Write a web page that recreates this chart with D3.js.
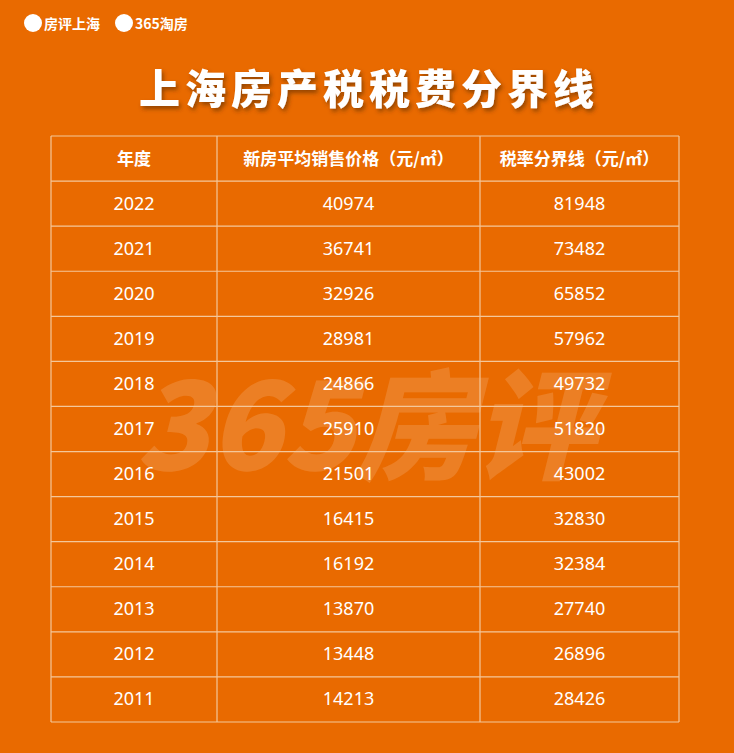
<!DOCTYPE html>
<html><head><meta charset="utf-8">
<script src="https://cdn.jsdelivr.net/npm/d3@7"></script>
<style>body{margin:0;background:#e96a00;}svg{display:block;}</style>
</head><body>
<script>
const years = ["2022","2021","2020","2019","2018","2017","2016","2015","2014","2013","2012","2011"];
const avgPrice = [40974,36741,32926,28981,24866,25910,21501,16415,16192,13870,13448,14213];
const threshold = [81948,73482,65852,57962,49732,51820,43002,32830,32384,27740,26896,28426];
const headers = ["年度","新房平均销售价格（元/㎡）","税率分界线（元/㎡）"];

const W = 734, H = 753;
const svg = d3.select("body").append("svg").attr("width", W).attr("height", H);
svg.append("rect").attr("width", W).attr("height", H).attr("fill", "#e96a00");

const font = "'Noto Sans CJK SC', 'Noto Sans', sans-serif";

// logos
svg.append("circle").attr("cx", 33).attr("cy", 23).attr("r", 9).attr("fill", "#fff");
svg.append("text").attr("x", 44).attr("y", 29).attr("fill", "#fff").attr("font-family", font)
  .attr("font-weight", 700).attr("font-size", 14).text("房评上海");
svg.append("circle").attr("cx", 124).attr("cy", 23).attr("r", 9).attr("fill", "#fff");
svg.append("text").attr("x", 135).attr("y", 29).attr("fill", "#fff").attr("font-family", font)
  .attr("font-weight", 700).attr("font-size", 14).text("365淘房");

// watermark (faint, behind the table)
svg.append("text").attr("x", 365).attr("y", 470).attr("text-anchor", "middle")
  .attr("fill", "#fff").attr("opacity", 0.14).attr("font-family", font)
  .attr("font-weight", 900).attr("font-size", 120).attr("font-style", "italic").text("365房评");

// title
const defs = svg.append("defs");
const f = defs.append("filter").attr("id", "sh");
f.append("feDropShadow").attr("dx", 2).attr("dy", 3).attr("stdDeviation", 2).attr("flood-color", "#5a2a00").attr("flood-opacity", 0.6);
svg.append("text").attr("x", 369).attr("y", 104).attr("text-anchor", "middle")
  .attr("fill", "#fff").attr("font-family", font).attr("font-weight", 900)
  .attr("font-size", 41).attr("letter-spacing", 5).attr("filter", "url(#sh)").text("上海房产税税费分界线");

// table
const colX = [51, 217, 480, 679];
const rows = years.map((y, i) => [y, avgPrice[i], threshold[i]]);
const y = d3.scaleBand().domain(d3.range(rows.length + 1)).range([136, 722]);
const lc = "#f4c79a";
d3.range(rows.length + 2).forEach(i => {
  const yy = i <= rows.length ? y(i) : 722;
  svg.append("line").attr("x1", colX[0]).attr("x2", colX[3]).attr("y1", yy).attr("y2", yy)
    .attr("stroke", lc).attr("stroke-width", 1.2);
});
colX.forEach(x => svg.append("line").attr("x1", x).attr("x2", x).attr("y1", 136).attr("y2", 722)
  .attr("stroke", lc).attr("stroke-width", 1.2));

const cx = [134, 348.5, 579.5];
headers.forEach((h, j) => svg.append("text").attr("x", cx[j]).attr("y", y(0) + y.bandwidth() / 2 + 6)
  .attr("text-anchor", "middle").attr("fill", "#fff").attr("font-family", font)
  .attr("font-weight", 700).attr("font-size", 17).text(h));

rows.forEach((r, i) => r.forEach((v, j) => svg.append("text").attr("x", cx[j])
  .attr("y", y(i + 1) + y.bandwidth() / 2 + 6).attr("text-anchor", "middle").attr("fill", "#fff")
  .attr("font-family", "'Liberation Sans Narrow','Noto Sans',sans-serif").attr("font-size", 18).text(v)));
</script>
</body></html>
